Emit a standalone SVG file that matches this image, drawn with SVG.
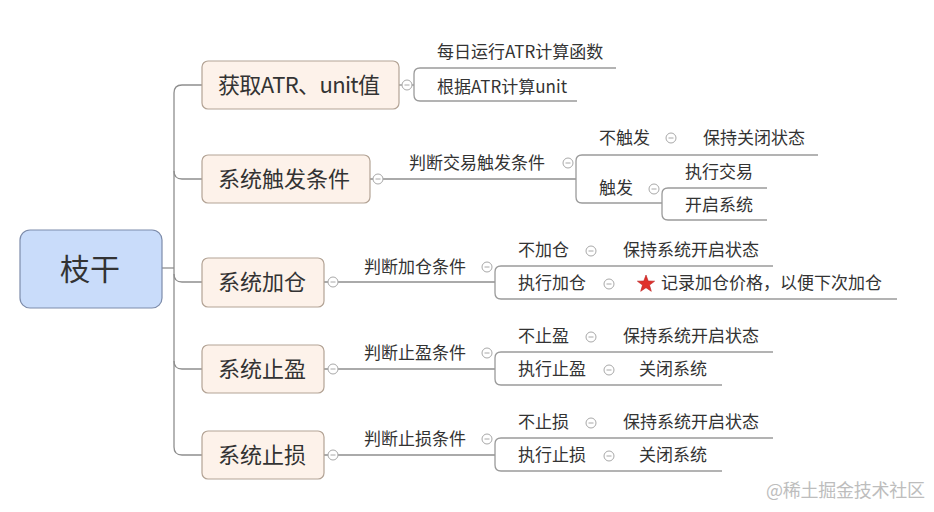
<svg xmlns="http://www.w3.org/2000/svg" width="934" height="512" viewBox="0 0 934 512">
<style>
.t{font-family:"Noto Sans CJK SC","Noto Sans",sans-serif;fill:#333}
.s{font-size:17px}
.m{font-size:22px}
.r{font-size:30px;text-anchor:middle}
.node rect{fill:#fdf2ea;stroke:#b3a395;stroke-width:1.2}
.ln{fill:none;stroke:#8e8e8e;stroke-width:1.3}
.ul{fill:none;stroke:#9a9a9a;stroke-width:1.3}
.btn circle{fill:#fff;stroke:#a8a8a8;stroke-width:1}
.btn path{stroke:#a8a8a8;stroke-width:1}
.wm{font-family:"Noto Sans CJK SC",sans-serif;font-size:18px;fill:#bdbdbd}
</style>
<rect width="934" height="512" fill="#fff"/>
<g id="connectors">
<path class="ln" d="M162,268 H174"/>
<path class="ln" d="M202,85 H182 Q174,85 174,93 V447 Q174,455 182,455 H202"/>
<path class="ln" d="M174,171 Q174,179 182,179 H202"/>
<path class="ln" d="M174,274 Q174,282 182,282 H202"/>
<path class="ln" d="M174,361 Q174,369 182,369 H202"/>
<path class="ln" d="M399,85 H414"/>
<path class="ln" d="M370,179 H576"/>
<path class="ln" d="M324,282 H495"/>
<path class="ln" d="M324,369 H495"/>
<path class="ln" d="M324,455 H495"/>
<path class="ul" d="M616,68 H420 Q414,68 414,74 V95 Q414,101 420,101 H577"/>
<path class="ul" d="M818,155 H582 Q576,155 576,161 V197 Q576,203 582,203 H662"/>
<path class="ul" d="M767,188 H668 Q662,188 662,194 V214 Q662,220 668,220 H767"/>
<path class="ul" d="M773,266 H501 Q495,266 495,272 V293 Q495,299 501,299 H897"/>
<path class="ul" d="M773,352 H501 Q495,352 495,358 V379 Q495,385 501,385 H722"/>
<path class="ul" d="M773,438 H501 Q495,438 495,444 V465 Q495,471 501,471 H722"/>
</g>
<g class="btn">
<circle cx="407" cy="85" r="5"/><path d="M404.5,85 H409.5"/>
<circle cx="378" cy="179" r="5"/><path d="M375.5,179 H380.5"/>
<circle cx="333" cy="282" r="5"/><path d="M330.5,282 H335.5"/>
<circle cx="333" cy="369" r="5"/><path d="M330.5,369 H335.5"/>
<circle cx="333" cy="455" r="5"/><path d="M330.5,455 H335.5"/>
<circle cx="568" cy="163" r="5"/><path d="M565.5,163 H570.5"/>
<circle cx="671" cy="138" r="5"/><path d="M668.5,138 H673.5"/>
<circle cx="654" cy="189" r="5"/><path d="M651.5,189 H656.5"/>
<circle cx="487" cy="267" r="5"/><path d="M484.5,267 H489.5"/>
<circle cx="591" cy="251" r="5"/><path d="M588.5,251 H593.5"/>
<circle cx="609" cy="284" r="5"/><path d="M606.5,284 H611.5"/>
<circle cx="487" cy="353" r="5"/><path d="M484.5,353 H489.5"/>
<circle cx="591" cy="337" r="5"/><path d="M588.5,337 H593.5"/>
<circle cx="609" cy="370" r="5"/><path d="M606.5,370 H611.5"/>
<circle cx="487" cy="439" r="5"/><path d="M484.5,439 H489.5"/>
<circle cx="591" cy="423" r="5"/><path d="M588.5,423 H593.5"/>
<circle cx="609" cy="456" r="5"/><path d="M606.5,456 H611.5"/>
</g>
<g id="root">
<rect x="20" y="230" width="142" height="78" rx="10" fill="#c9dcfa" stroke="#7d8cab" stroke-width="1.2"/>
<text class="t r" x="90" y="280">枝干</text>
</g>
<g id="n1" class="node">
<rect x="202" y="61" width="197" height="48" rx="6"/>
<text class="t m" x="218" y="93" textLength="162">获取ATR、unit值</text>
</g>
<g id="n2" class="node">
<rect x="202" y="155" width="168" height="48" rx="6"/>
<text class="t m" x="218" y="187">系统触发条件</text>
</g>
<g id="n3" class="node">
<rect x="202" y="258" width="122" height="49" rx="6"/>
<text class="t m" x="218" y="290">系统加仓</text>
</g>
<g id="n4" class="node">
<rect x="202" y="345" width="122" height="48" rx="6"/>
<text class="t m" x="218" y="377">系统止盈</text>
</g>
<g id="n5" class="node">
<rect x="202" y="431" width="122" height="48" rx="6"/>
<text class="t m" x="218" y="463">系统止损</text>
</g>
<g id="n1c"><text class="t s" x="437" y="58">每日运行ATR计算函数</text><text class="t s" x="437" y="93">根据ATR计算unit</text></g>
<g id="n2c">
<text class="t s" x="409" y="169">判断交易触发条件</text>
<text class="t s" x="599" y="144">不触发</text>
<text class="t s" x="703" y="144">保持关闭状态</text>
<text class="t s" x="599" y="194">触发</text>
<text class="t s" x="685" y="178">执行交易</text>
<text class="t s" x="685" y="211">开启系统</text>
</g>
<g id="n3c">
<text class="t s" x="364" y="273">判断加仓条件</text>
<text class="t s" x="518" y="256">不加仓</text>
<text class="t s" x="623" y="256">保持系统开启状态</text>
<text class="t s" x="518" y="289">执行加仓</text>
<polygon points="646,275 648.2,281 654.6,281.2 649.5,285.1 651.3,291.3 646,287.7 640.7,291.3 642.5,285.1 637.4,281.2 643.8,281" fill="#e0302a" stroke="#b82020" stroke-width="0.6"/>
<text class="t s" x="661" y="289">记录加仓价格，以便下次加仓</text>
</g>
<g id="n4c">
<text class="t s" x="364" y="359">判断止盈条件</text>
<text class="t s" x="518" y="342">不止盈</text>
<text class="t s" x="623" y="342">保持系统开启状态</text>
<text class="t s" x="518" y="375">执行止盈</text>
<text class="t s" x="639" y="375">关闭系统</text>
</g>
<g id="n5c">
<text class="t s" x="364" y="445">判断止损条件</text>
<text class="t s" x="518" y="428">不止损</text>
<text class="t s" x="623" y="428">保持系统开启状态</text>
<text class="t s" x="518" y="461">执行止损</text>
<text class="t s" x="639" y="461">关闭系统</text>
</g>
<text class="wm" x="766" y="497" textLength="159">@稀土掘金技术社区</text>
</svg>
